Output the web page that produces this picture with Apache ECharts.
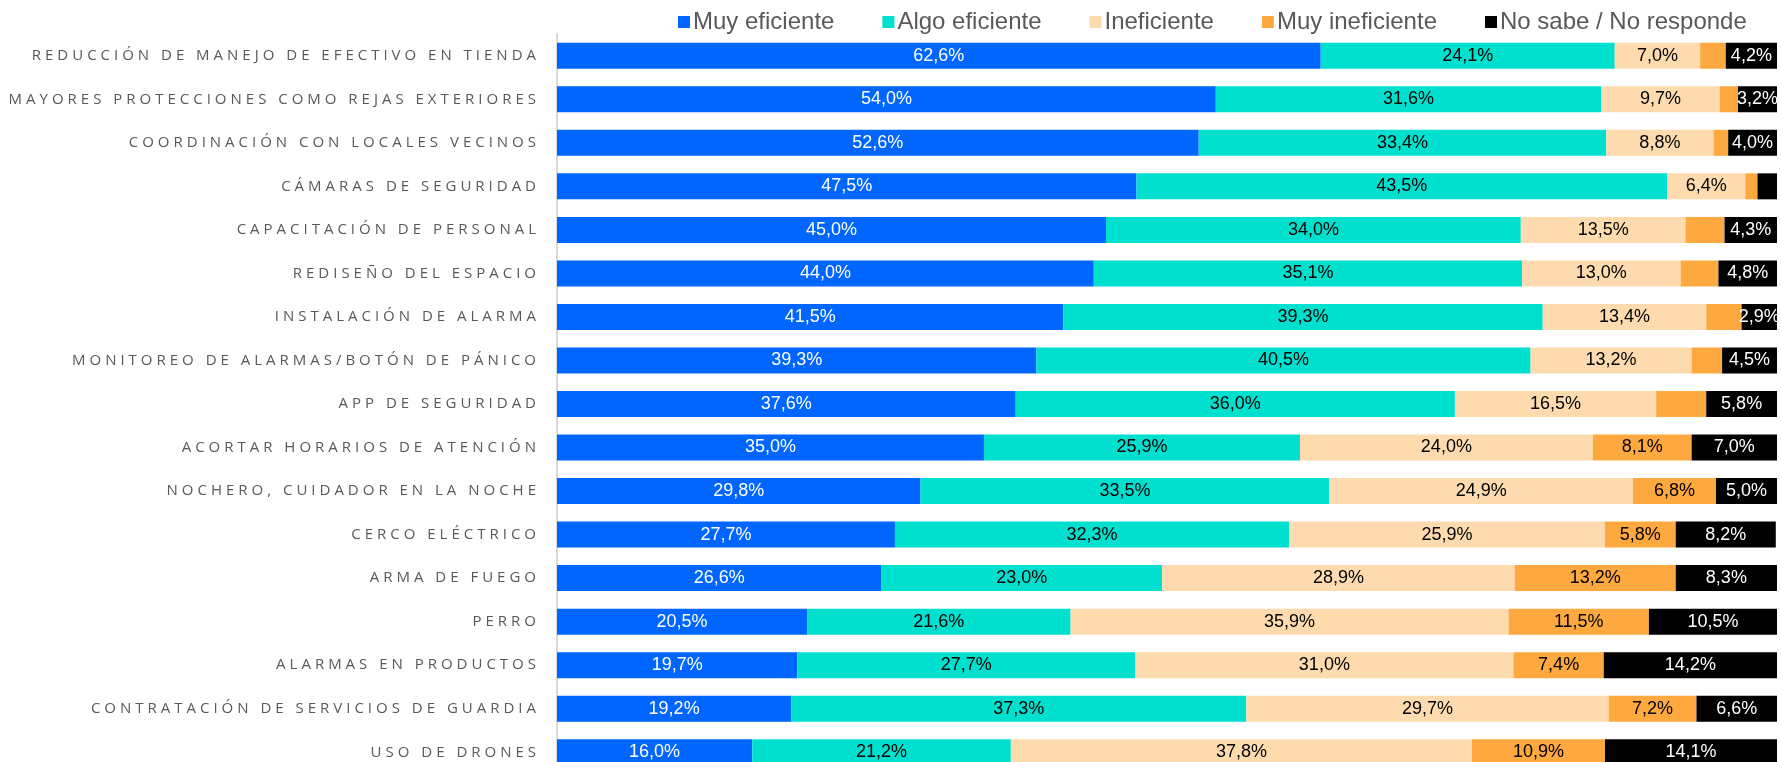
<!DOCTYPE html>
<html>
<head>
<meta charset="utf-8">
<script src="https://cdn.jsdelivr.net/npm/echarts@6/dist/echarts.min.js"></script>
<style>
html,body{margin:0;padding:0;background:#fff;}
#chart{width:1781px;height:762px;}
</style>
</head>
<body>
<div id="chart"></div>
<script>
const categories = [
  'REDUCCIÓN DE MANEJO DE EFECTIVO EN TIENDA',
  'MAYORES PROTECCIONES COMO REJAS EXTERIORES',
  'COORDINACIÓN CON LOCALES VECINOS',
  'CÁMARAS DE SEGURIDAD',
  'CAPACITACIÓN DE PERSONAL',
  'REDISEÑO DEL ESPACIO',
  'INSTALACIÓN DE ALARMA',
  'MONITOREO DE ALARMAS/BOTÓN DE PÁNICO',
  'APP DE SEGURIDAD',
  'ACORTAR HORARIOS DE ATENCIÓN',
  'NOCHERO, CUIDADOR EN LA NOCHE',
  'CERCO ELÉCTRICO',
  'ARMA DE FUEGO',
  'PERRO',
  'ALARMAS EN PRODUCTOS',
  'CONTRATACIÓN DE SERVICIOS DE GUARDIA',
  'USO DE DRONES'
];
const seriesNames = ['Muy eficiente', 'Algo eficiente', 'Ineficiente', 'Muy ineficiente', 'No sabe / No responde'];
const muyEficiente   = [62.6, 54.0, 52.6, 47.5, 45.0, 44.0, 41.5, 39.3, 37.6, 35.0, 29.8, 27.7, 26.6, 20.5, 19.7, 19.2, 16.0];
const algoEficiente  = [24.1, 31.6, 33.4, 43.5, 34.0, 35.1, 39.3, 40.5, 36.0, 25.9, 33.5, 32.3, 23.0, 21.6, 27.7, 37.3, 21.2];
const ineficiente    = [7.0, 9.7, 8.8, 6.4, 13.5, 13.0, 13.4, 13.2, 16.5, 24.0, 24.9, 25.9, 28.9, 35.9, 31.0, 29.7, 37.8];
const muyIneficiente = [2.1, 1.5, 1.2, 1.0, 3.2, 3.1, 2.9, 2.5, 4.1, 8.1, 6.8, 5.8, 13.2, 11.5, 7.4, 7.2, 10.9];
const noSabe         = [4.2, 3.2, 4.0, 1.6, 4.3, 4.8, 2.9, 4.5, 5.8, 7.0, 5.0, 8.2, 8.3, 10.5, 14.2, 6.6, 14.1];

const values = [muyEficiente, algoEficiente, ineficiente, muyIneficiente, noSabe];
const colors = ['#0066FF', '#00E0CF', '#FDDBAF', '#FDA93F', '#000000'];
const labelColors = ['#ffffff', '#000000', '#000000', '#000000', '#ffffff'];
const labelMin = [0, 0, 0, 5, 2];

const spaced = s => s.split('').join('\u2009\u200A');
const fmt = v => v.toFixed(1).replace('.', ',') + '%';

const chart = echarts.init(document.getElementById('chart'));
chart.setOption({
  animation: false,
  legend: {
    left: 673,
    top: 5,
    itemWidth: 12,
    itemHeight: 12,
    itemGap: 48,
    icon: 'rect',
    textStyle: {fontFamily: 'Liberation Sans, Arial', fontSize: 24, color: '#595959', padding: [0, 0, 0, -2]},
    data: seriesNames
  },
  grid: {left: 557, right: 4, top: 34, height: 740, containLabel: false, outerBoundsMode: 'none'},
  xAxis: {type: 'value', min: 0, max: 100, show: false},
  yAxis: {
    type: 'category',
    inverse: true,
    data: categories,
    axisTick: {show: false},
    axisLine: {lineStyle: {color: '#d9d9d9', width: 2}},
    axisLabel: {
      margin: 21,
      fontFamily: 'Open Sans',
      fontSize: 15,
      color: '#595959',
      formatter: spaced
    }
  },
  series: seriesNames.map((name, i) => ({
    name: name,
    type: 'bar',
    stack: 'total',
    barWidth: 26,
    itemStyle: {color: colors[i]},
    label: {
      show: true,
      position: 'inside',
      fontFamily: 'Liberation Sans, Arial',
      fontSize: 18,
      color: labelColors[i],
      formatter: p => (p.value >= labelMin[i] ? fmt(p.value) : '')
    },
    data: values[i]
  }))
});
</script>
</body>
</html>
